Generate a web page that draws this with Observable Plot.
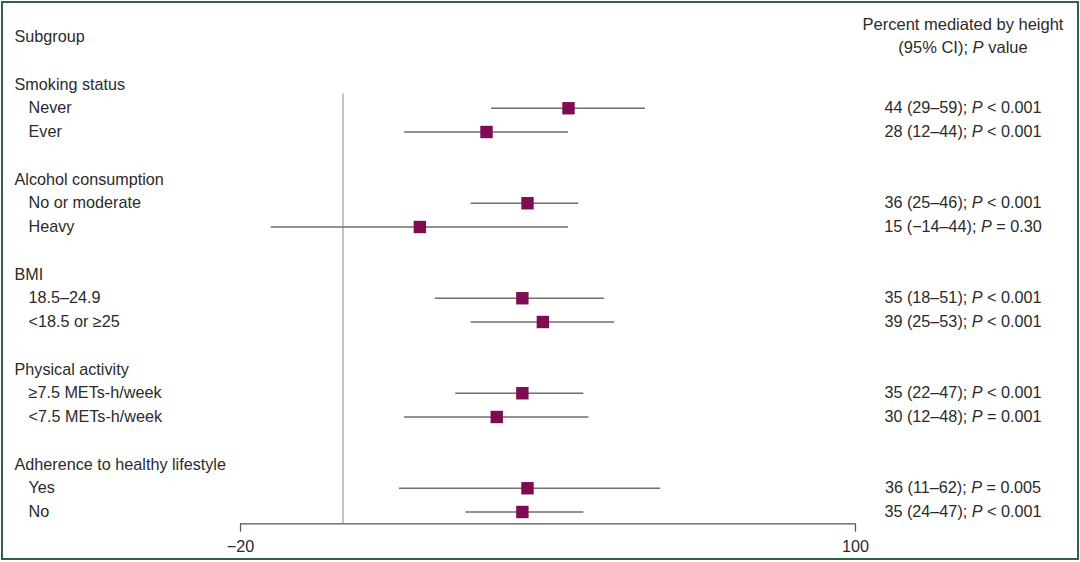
<!DOCTYPE html>
<html>
<head>
<meta charset="utf-8">
<script src="https://cdn.jsdelivr.net/npm/d3@7"></script>
<script src="https://cdn.jsdelivr.net/npm/@observablehq/plot@0.6"></script>
<style>
  html, body { margin: 0; padding: 0; background: #fff; }
  #wrap { position: relative; width: 1080px; height: 562px; overflow: hidden; }
  #border { position: absolute; left: 1px; top: 1px; width: 1078px; height: 559px; box-sizing: border-box; border: 2px solid #2f6248; pointer-events: none; }
  svg { display: block; }
</style>
</head>
<body>
<div id="wrap"><div id="chart"></div><div id="border"></div></div>
<script>
const groups = ["Smoking status", "Alcohol consumption", "BMI", "Physical activity", "Adherence to healthy lifestyle"];
const subgroups = [
  ["Never", "Ever"],
  ["No or moderate", "Heavy"],
  ["18.5–24.9", "<18.5 or ≥25"],
  ["≥7.5 METs-h/week", "<7.5 METs-h/week"],
  ["Yes", "No"]
];
const estimates = [44, 28, 36, 15, 35, 39, 35, 30, 36, 35];
const lower     = [29, 12, 25, -14, 18, 25, 22, 12, 11, 24];
const upper     = [59, 44, 46, 44, 51, 53, 47, 48, 62, 47];
const pValues   = ["P < 0.001", "P < 0.001", "P < 0.001", "P = 0.30", "P < 0.001", "P < 0.001", "P < 0.001", "P = 0.001", "P = 0.005", "P < 0.001"];
const xTicks = [-20, 100];
const leftHeader = "Subgroup";
const rightHeader = ["Percent mediated by height", "(95% CI); P value"];

// Build rows: each group occupies 4 rows (header, 2 subgroups, blank)
const headerRows = [];
const subRows = [];
let k = 0;
groups.forEach((g, gi) => {
  const base = gi * 4;
  headerRows.push({row: base, label: g});
  subgroups[gi].forEach((s, si) => {
    subRows.push({
      row: base + 1 + si,
      label: s,
      est: estimates[k], lo: lower[k], hi: upper[k],
      stat: `${estimates[k]} (${String(lower[k]).replace("-", "−")}–${upper[k]}); ${pValues[k]}`
    });
    k++;
  });
});

const font = "'Liberation Sans', Arial, Helvetica, sans-serif";
const textColor = "#2b2b2b";
const axisRow = 18.5;
const fs = 16.2;

const chart = Plot.plot({
  width: 1080,
  height: 562,
  marginLeft: 0, marginRight: 0, marginTop: 0, marginBottom: 0,
  style: {fontFamily: font, fontSize: fs + "px", color: textColor, background: "#fff"},
  x: {domain: [-20, 100], range: [240, 855], axis: null},
  y: {domain: [-2, 18], range: [36.5, 511.5], axis: null},
  marks: [
    // zero reference line
    Plot.ruleX([0], {y1: 0.4, y2: axisRow, stroke: "#8a8a8a", strokeWidth: 1}),
    // axis line and ticks
    Plot.ruleY([axisRow], {x1: xTicks[0], x2: xTicks[1], stroke: "#555", strokeWidth: 1.2}),
    Plot.ruleX(xTicks, {y1: axisRow, y2: axisRow + 0.35, stroke: "#555", strokeWidth: 1.2}),
    Plot.text(xTicks, {x: d => d, y: axisRow + 0.95, text: d => String(d).replace("-", "−"), fill: textColor, fontSize: fs}),
    // CI lines
    Plot.ruleY(subRows, {y: "row", x1: "lo", x2: "hi", stroke: "#6f6f6f", strokeWidth: 1.3}),
    // point estimates
    Plot.dot(subRows, {x: "est", y: "row", symbol: "square", r: 7, fill: "#7e0c50", stroke: "none"}),
    // left labels
    Plot.text([leftHeader], {y: -2, text: d => d, frameAnchor: "left", dx: 14, textAnchor: "start", fill: textColor, fontSize: fs}),
    Plot.text(headerRows, {y: "row", text: "label", frameAnchor: "left", dx: 14, textAnchor: "start", fill: textColor, fontSize: fs}),
    Plot.text(subRows, {y: "row", text: "label", frameAnchor: "left", dx: 28, textAnchor: "start", fill: textColor, fontSize: fs}),
    // right column
    Plot.text(subRows, {y: "row", text: "stat", frameAnchor: "right", dx: -117.5, textAnchor: "middle", fill: textColor, fontSize: fs, className: "stat"}),
    Plot.text(rightHeader, {y: (d, i) => i === 0 ? -2.53 : -1.56, text: d => d, frameAnchor: "right", dx: -117.5, textAnchor: "middle", fill: textColor, fontSize: 16.5, className: "stat"})
  ]
});

// italicise the "P" that follows the semicolon
d3.select(chart).selectAll(".stat text").each(function() {
  const t = this.textContent;
  const semi = t.indexOf(";");
  if (semi < 0) return;
  const i = t.indexOf("P", semi);
  if (i < 0) return;
  const el = d3.select(this);
  el.text(null);
  el.append("tspan").text(t.slice(0, i));
  el.append("tspan").attr("font-style", "italic").text("P");
  el.append("tspan").text(t.slice(i + 1));
});

document.getElementById("chart").appendChild(chart);
</script>
</body>
</html>
